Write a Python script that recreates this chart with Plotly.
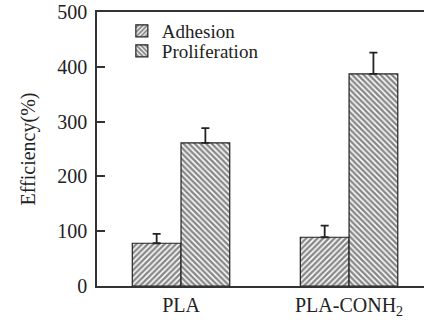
import plotly.graph_objects as go

categories = ["PLA", "PLA-CONH<sub>2</sub>"]
cat_pos = [0, 1]
adhesion = [78, 89]
adhesion_err = [17, 21]
proliferation = [261, 387]
proliferation_err = [27, 39]
y_ticks = [0, 100, 200, 300, 400, 500]

font_family = "Liberation Serif, Times New Roman, serif"
ink = "#222"

fig = go.Figure()
fig.add_trace(go.Bar(
    name="Adhesion", x=cat_pos, y=adhesion, legend="legend",
    error_y=dict(type="data", array=adhesion_err, arrayminus=[0, 0], symmetric=False,
                 color=ink, thickness=1.8, width=4),
    marker=dict(color="white", line=dict(color=ink, width=1.2),
                pattern=dict(shape="/", fgcolor="#111", bgcolor="white", size=4, solidity=0.62)),
))
fig.add_trace(go.Bar(
    name="Proliferation", x=cat_pos, y=proliferation, legend="legend2",
    error_y=dict(type="data", array=proliferation_err, arrayminus=[0, 0], symmetric=False,
                 color=ink, thickness=1.8, width=4),
    marker=dict(color="white", line=dict(color=ink, width=1.2),
                pattern=dict(shape="\\", fgcolor="#111", bgcolor="white", size=4, solidity=0.62)),
))

leg_common = dict(xanchor="left", yanchor="middle", bgcolor="rgba(0,0,0,0)",
                  font=dict(size=19, family=font_family, color=ink), itemwidth=30)

fig.update_layout(
    width=424, height=320,
    margin=dict(l=97, r=0, t=12, b=34),
    paper_bgcolor="white", plot_bgcolor="white",
    barmode="group", bargap=0.42, bargroupgap=0,
    font=dict(family=font_family, size=20, color=ink),
    showlegend=True,
    legend=dict(x=0.076, y=(286 - 31) / 274, **leg_common),
    legend2=dict(x=0.076, y=(286 - 51) / 274, **leg_common),
    xaxis=dict(type="linear", range=[-0.5, 1.446], tickvals=cat_pos, ticktext=categories,
               showline=True, linecolor="#333", linewidth=1.5, mirror=True,
               ticks="", showgrid=False, zeroline=False,
               tickfont=dict(size=20)),
    yaxis=dict(range=[0, 500], tickvals=y_ticks,
               showline=True, linecolor="#333", linewidth=1.5,
               ticks="inside", ticklen=8, tickwidth=1.5, tickcolor="#333",
               showgrid=False, zeroline=False, ticklabelstandoff=4,
               title=dict(text="Efficiency(%)", font=dict(size=20), standoff=16),
               tickfont=dict(size=20)),
)

fig.write_html("out.html")
